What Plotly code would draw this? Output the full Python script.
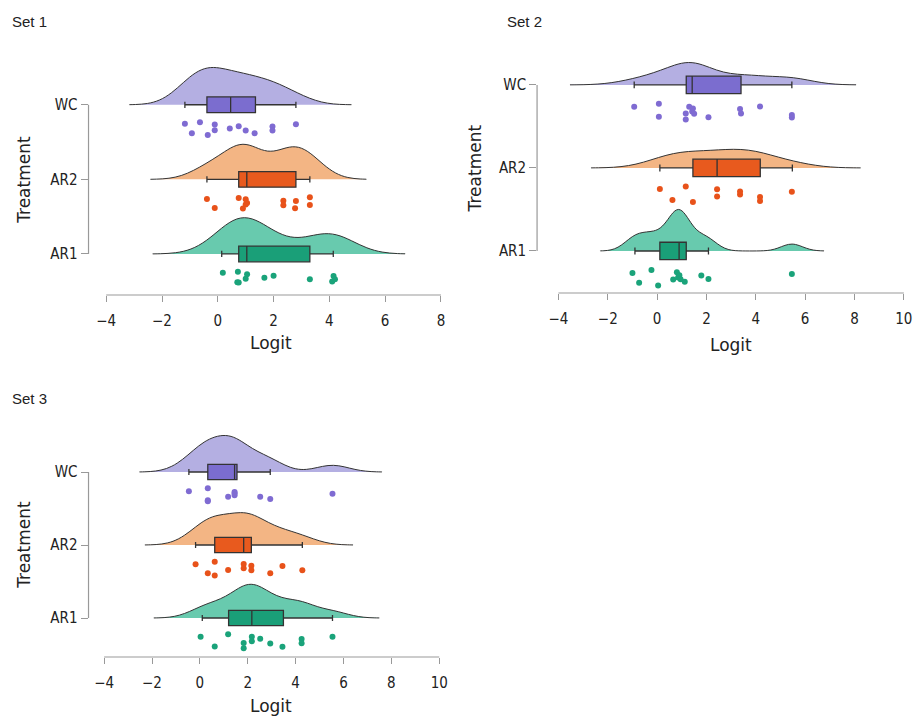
import numpy as np
import plotly.graph_objects as go

W, H = 921, 717

treatments = ["WC", "AR2", "AR1"]

# ---- Set 1 sample values (logit) ----
s1_wc = [-1.18, -0.93, -0.64, -0.36, -0.11, -0.11, 0.43, 0.75, 1.0, 1.32, 1.96, 1.96, 2.8]
s1_ar2 = [-0.39, -0.11, 0.75, 0.9, 1.0, 1.0, 1.05, 2.35, 2.35, 2.77, 2.8, 3.3, 3.3]
s1_ar1 = [0.18, 0.7, 0.72, 0.75, 1.0, 1.05, 1.67, 2.0, 3.3, 4.1, 4.15, 4.2]
# ---- Set 2 ----
s2_wc = [-0.93, 0.07, 0.07, 1.16, 1.16, 1.3, 1.42, 1.45, 1.5, 2.08, 3.36, 3.4, 4.17, 5.46, 5.46]
s2_ar2 = [0.11, 0.62, 1.16, 1.45, 2.43, 2.43, 3.36, 3.36, 4.17, 4.17, 5.46]
s2_ar1 = [-1.0, -0.73, -0.23, 0.04, 0.65, 0.8, 0.85, 0.9, 0.95, 1.12, 1.79, 2.08, 5.46]
# ---- Set 3 ----
s3_wc = [-0.46, 0.33, 0.33, 0.33, 1.18, 1.45, 1.45, 1.45, 2.52, 2.94, 5.54]
s3_ar2 = [-0.18, 0.33, 0.62, 0.62, 1.18, 1.83, 1.83, 2.15, 2.15, 2.94, 3.45, 4.28]
s3_ar1 = [0.03, 0.62, 1.18, 1.83, 1.83, 2.17, 2.17, 2.52, 2.94, 3.45, 4.25, 4.25, 5.54]

# ---- Box statistics: (lowerfence, q1, median, q3, upperfence) ----
s1_box = {"WC": (-1.18, -0.39, 0.46, 1.35, 2.8),
          "AR2": (-0.39, 0.75, 1.04, 2.8, 3.3),
          "AR1": (0.14, 0.75, 1.04, 3.3, 4.14)}
s2_box = {"WC": (-0.93, 1.18, 1.42, 3.4, 5.46),
          "AR2": (0.11, 1.45, 2.43, 4.18, 5.48),
          "AR1": (-0.9, 0.11, 0.89, 1.18, 2.08)}
s3_box = {"WC": (-0.46, 0.33, 1.45, 1.55, 2.94),
          "AR2": (-0.18, 0.62, 1.83, 2.15, 4.28),
          "AR1": (0.1, 1.2, 2.17, 3.49, 5.54)}

x_ticks_s1 = [-4, -2, 0, 2, 4, 6, 8]
x_ticks_s23 = [-4, -2, 0, 2, 4, 6, 8, 10]

colors = {
    "WC": dict(dens="rgba(140,132,210,0.65)", box="#7b6dcf", pt="#7f6bd2"),
    "AR2": dict(dens="rgba(238,150,80,0.7)", box="#e85a1e", pt="#e8521a"),
    "AR1": dict(dens="rgba(40,180,140,0.7)", box="#1a9f78", pt="#1aa37a"),
}


def nrd0(v):
    """R's default kernel bandwidth (bw.nrd0)."""
    a = np.asarray(v, dtype=float)
    sd = a.std(ddof=1)
    iqr = np.subtract(*np.percentile(a, [75, 25]))
    lo = min(sd, iqr / 1.34) if iqr > 0 else sd
    return 0.9 * lo * len(a) ** (-0.2)


sets = [
    dict(name="Set 1", data={"WC": s1_wc, "AR2": s1_ar2, "AR1": s1_ar1}, box=s1_box, ticks=x_ticks_s1,
         xpx=(89, 447), xr=(-4.635, 8.13), ypx=(63, 295), yr=(-0.55, 2.56), xend=8,
         title_xy=(10, 22), logit_xy=(272, 343), treat_xy=(24, 180)),
    dict(name="Set 2", data={"WC": s2_wc, "AR2": s2_ar2, "AR1": s2_ar1}, box=s2_box, ticks=x_ticks_s23,
         xpx=(540, 913), xr=(-4.867, 10.17), ypx=(50, 293), yr=(-0.506, 2.42), xend=10,
         title_xy=(508, 22), logit_xy=(735, 345), treat_xy=(478, 168)),
    dict(name="Set 3", data={"WC": s3_wc, "AR2": s3_ar2, "AR1": s3_ar1}, box=s3_box, ticks=x_ticks_s23,
         xpx=(89, 445), xr=(-4.653, 10.14), ypx=(425, 657), yr=(-0.534, 2.644), xend=10,
         title_xy=(10, 398), logit_xy=(272, 706), treat_xy=(24, 545)),
]

fig = go.Figure()
layout = {}
shapes = []
annotations = []
tickfont = dict(family="DejaVu Sans Condensed, DejaVu Sans, sans-serif", size=15, color="#222")

for i, s in enumerate(sets):
    k = "" if i == 0 else str(i + 1)
    xa, ya = "x" + k, "y" + k
    for t in treatments:
        vals = s["data"][t]
        c = colors[t]
        bw = nrd0(vals)
        # half-violin (density); the violins of a set share one density scale
        fig.add_trace(go.Violin(
            x=vals, y0=t, orientation="h", side="positive", xaxis=xa, yaxis=ya,
            points=False, box_visible=False, meanline_visible=False,
            bandwidth=bw, spanmode="manual", span=[min(vals) - 3 * bw, max(vals) + 3 * bw],
            fillcolor=c["dens"], line=dict(color="#333333", width=1),
            scalegroup=s["name"].replace(" ", ""), scalemode="width",
            hoverinfo="skip", showlegend=False))
        # jittered raw points (invisible box, points below)
        fig.add_trace(go.Box(
            x=vals, y0=t, orientation="h", xaxis=xa, yaxis=ya,
            boxpoints="all", jitter=0.4, pointpos=-1.05, width=0.6,
            fillcolor="rgba(0,0,0,0)", line=dict(color="rgba(0,0,0,0)", width=0),
            marker=dict(color=c["pt"], size=6, line=dict(width=0)),
            hoverinfo="skip", showlegend=False))
        # box summary
        lf, q1, md, q3, uf = s["box"][t]
        fig.add_trace(go.Box(
            y=[t], q1=[q1], median=[md], q3=[q3], lowerfence=[lf], upperfence=[uf],
            orientation="h", xaxis=xa, yaxis=ya, boxpoints=False,
            width=0.21, whiskerwidth=0.4,
            fillcolor=c["box"], line=dict(color="#333333", width=1.3),
            hoverinfo="skip", showlegend=False))

    x0, x1 = s["xpx"]
    y0, y1 = s["ypx"]
    layout["xaxis" + k] = dict(
        domain=[x0 / W, x1 / W], range=list(s["xr"]), anchor=ya,
        tickvals=s["ticks"], ticks="outside", ticklen=6, tickcolor="#999999",
        showline=False, showgrid=False, zeroline=False, tickfont=tickfont,
        ticklabelstandoff=6, fixedrange=True)
    layout["yaxis" + k] = dict(
        domain=[1 - y1 / H, 1 - y0 / H], range=list(s["yr"]), anchor=xa,
        type="category", categoryorder="array", categoryarray=["AR1", "AR2", "WC"],
        ticks="outside", ticklen=7, tickcolor="#999999",
        showline=False, showgrid=False, zeroline=False, tickfont=tickfont,
        fixedrange=True)
    # range-frame spines
    shapes.append(dict(type="line", xref=xa, yref=ya + " domain", x0=-4, x1=s["xend"], y0=0, y1=0,
                       line=dict(color="#999999", width=1.2)))
    shapes.append(dict(type="line", xref=xa + " domain", yref=ya, x0=0, x1=0, y0=0, y1=2,
                       line=dict(color="#999999", width=1.2)))
    tx, ty = s["title_xy"]
    annotations.append(dict(text=s["name"], xref="paper", yref="paper", x=tx / W, y=1 - ty / H,
                            xanchor="left", yanchor="middle", showarrow=False,
                            font=dict(family="Liberation Sans, Arial, sans-serif", size=15, color="#222")))
    lx, ly = s["logit_xy"]
    annotations.append(dict(text="Logit", xref="paper", yref="paper", x=lx / W, y=1 - ly / H,
                            xanchor="center", yanchor="middle", showarrow=False,
                            font=dict(family="DejaVu Sans, sans-serif", size=17, color="#222")))
    rx, ry = s["treat_xy"]
    annotations.append(dict(text="Treatment", xref="paper", yref="paper", x=rx / W, y=1 - ry / H,
                            xanchor="center", yanchor="middle", showarrow=False, textangle=-90,
                            font=dict(family="DejaVu Sans, sans-serif", size=17, color="#222")))

fig.update_layout(
    width=W, height=H, autosize=False,
    margin=dict(l=0, r=0, t=0, b=0),
    paper_bgcolor="white", plot_bgcolor="white",
    violinmode="overlay", boxmode="overlay",
    violingap=0, violingroupgap=0,
    shapes=shapes, annotations=annotations,
    showlegend=False,
    **layout)

fig.write_html("out.html", config={"displayModeBar": False, "staticPlot": True},
               post_script="document.body.style.margin='0';document.body.style.overflow='hidden';")
